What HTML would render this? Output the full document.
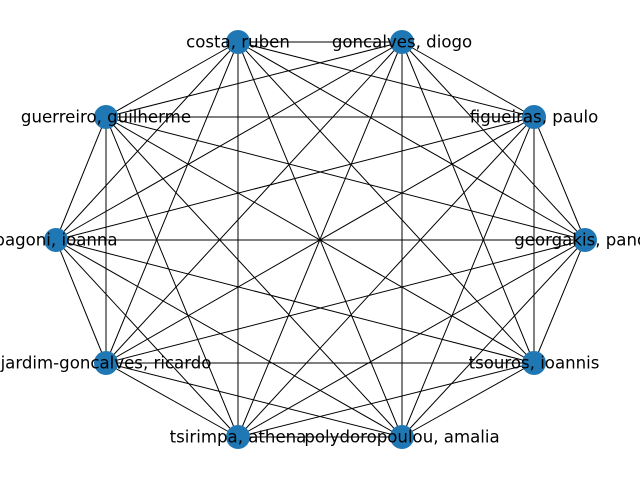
<!DOCTYPE html>
<html><head><meta charset="utf-8"><style>html,body{margin:0;padding:0;background:#fff}svg{display:block}</style></head>
<body>
<svg width="640" height="480" viewBox="0 0 640 480" xmlns="http://www.w3.org/2000/svg">
<path fill="none" stroke="#000" stroke-width="1" d="
M238 42L402 42 M238 42L534 117 M238 42L585 240 M238 42L534 363 M238 42L402 437 M238 42L238 437 M238 42L106 363 M238 42L56 240 M238 42L106 117
M402 42L534 117 M402 42L585 240 M402 42L534 363 M402 42L402 437 M402 42L238 437 M402 42L106 363 M402 42L56 240 M402 42L106 117
M534 117L585 240 M534 117L534 363 M534 117L402 437 M534 117L238 437 M534 117L106 363 M534 117L56 240 M534 117L106 117
M585 240L534 363 M585 240L402 437 M585 240L238 437 M585 240L106 363 M585 240L56 240 M585 240L106 117
M534 363L402 437 M534 363L238 437 M534 363L106 363 M534 363L56 240 M534 363L106 117
M402 437L238 437 M402 437L106 363 M402 437L56 240 M402 437L106 117
M238 437L106 363 M238 437L56 240 M238 437L106 117
M106 363L56 240 M106 363L106 117
M56 240L106 117"/>
<g fill="#1f77b4">
<circle cx="238" cy="42" r="12"/><circle cx="402" cy="42" r="12"/><circle cx="534" cy="117" r="12"/>
<circle cx="585" cy="240" r="12"/><circle cx="534" cy="363" r="12"/><circle cx="402" cy="437" r="12"/>
<circle cx="238" cy="437" r="12"/><circle cx="106" cy="363" r="12"/><circle cx="56" cy="240" r="12"/>
<circle cx="106" cy="117" r="12"/>
</g>
<g font-family="DejaVu Sans, Liberation Sans, sans-serif" font-size="16.6" text-anchor="middle" dominant-baseline="central" fill="#000">
<text x="238" y="42">costa, ruben</text>
<text x="402" y="42">goncalves, diogo</text>
<text x="534" y="117">figueiras, paulo</text>
<text x="585" y="240">georgakis, panos</text>
<text x="534" y="363">tsouros, ioannis</text>
<text x="402" y="437">polydoropoulou, amalia</text>
<text x="238" y="437">tsirimpa, athena</text>
<text x="106" y="363">jardim-goncalves, ricardo</text>
<text x="56" y="240">pagoni, ioanna</text>
<text x="106" y="117">guerreiro, guilherme</text>
</g>
</svg>
</body></html>
